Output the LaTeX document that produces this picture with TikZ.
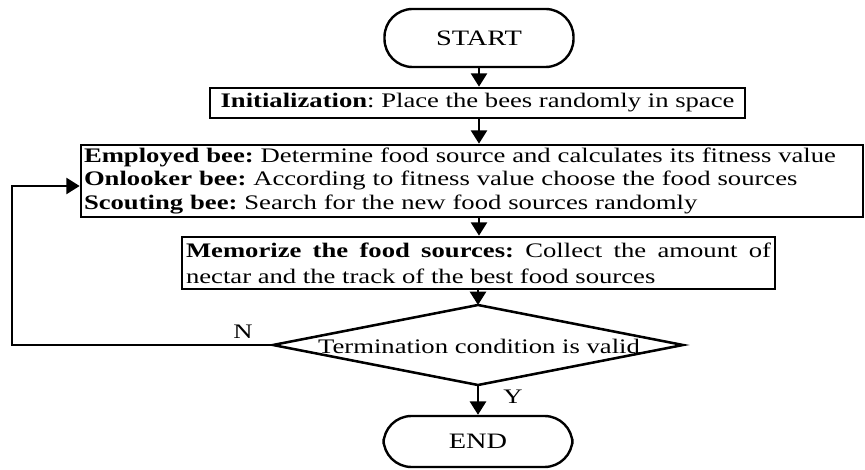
\documentclass[tikz,border=0pt]{standalone}
\usepackage{fontspec}
\setmainfont{Liberation Serif}[FakeStretch=1.29]
\usetikzlibrary{arrows.meta,calc}
% exact line spacing inside multi-line boxes
\newcommand{\tightlines}[2]{\fontsize{#1}{#2}\selectfont\lineskiplimit=-100pt\lineskip=0pt}
\begin{document}
\frenchspacing
\begin{tikzpicture}[x=0.75pt,y=-0.75pt,
  font=\tightlines{15.5}{17.6},
  every node/.style={inner sep=0pt},
  terminal/.style={draw,line width=1.8pt,rounded corners=21pt,
    minimum width=189*0.75pt,minimum height=58*0.75pt},
  process/.style={draw,line width=2pt},
  outline/.style={draw,line width=1.9pt,line join=miter},
  flow/.style={line width=1.9pt,-{Triangle[length=10pt,width=12pt]}}]
\useasboundingbox (0,0) rectangle (865,470);

% terminals and process boxes
\node[terminal,font=\fontsize{16.5}{18}\selectfont] (start) at (479,38) {START};
\node[process,minimum width=535*0.75pt,minimum height=30*0.75pt] (init) at (477.5,103)
  {\textbf{Initialization}: Place the bees randomly in space};
\node[process,minimum width=782*0.75pt,minimum height=72*0.75pt,
  text width=776*0.75pt,align=left] (emp) at (472,181)
  {\textbf{Employed bee:} Determine food source and calculates its fitness value\\
   \textbf{Onlooker bee:} According to fitness value choose the food sources\\
   \textbf{Scouting bee:} Search for the new food sources randomly};
\node[process,minimum width=593*0.75pt,minimum height=52*0.75pt,
  text width=585*0.75pt,align=justify,font=\tightlines{15.5}{19.5}] (mem) at (478.5,263)
  {\textbf{Memorize the food sources:} Collect the amount of
   nectar and the track of the best food sources};

% decision diamond
\coordinate (decN) at (478,305);
\coordinate (decE) at (683,345);
\coordinate (decS) at (478,385);
\coordinate (decW) at (273,345);
\draw[outline] (decN) -- (decE) -- (decS) -- (decW) -- cycle;
\node (dec) at (479,346) {Termination condition is valid};

\node[terminal,minimum height=51*0.75pt,font=\fontsize{16.5}{18}\selectfont] (end) at (478,441.5) {END};

% main flow
\draw[flow] (start.south) -- (start.south |- init.north);
\draw[flow] (init.south -| start.south) -- (start.south |- emp.north);
\draw[flow] (emp.south -| start.south) -- (start.south |- mem.north);
\draw[flow] (mem.south -| decN) -- (decN);
\draw[flow] (decS) -- (end.north);

% loop back on N
\coordinate (loop) at (12,345);
\draw[flow] (decW) -- (loop) |- ($(emp.west)+(0,5)$);

\node (nlab) at (243,332) {N};
\node (ylab) at (513,397) {Y};
\end{tikzpicture}
\end{document}
